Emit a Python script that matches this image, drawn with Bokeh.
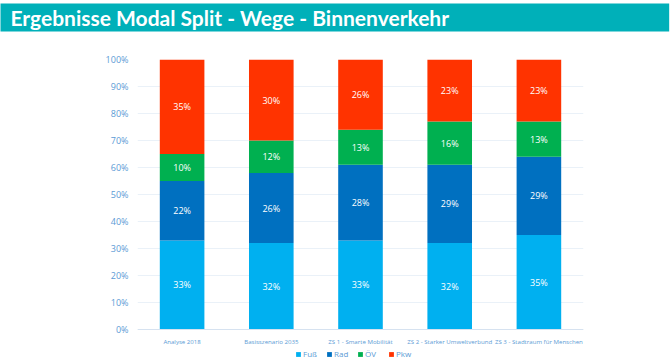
from bokeh.plotting import figure
from bokeh.models import (ColumnDataSource, Range1d, NumeralTickFormatter, FixedTicker,
                          Legend, LegendItem, Title)
from bokeh.core.properties import value
from bokeh.embed import file_html
from bokeh.resources import INLINE

title = "Ergebnisse Modal Split - Wege - Binnenverkehr"
categories = ["Analyse 2018", "Basisszenario 2035", "ZS 1 - Smarte Mobilität",
              "ZS 2 - Starker Umweltverbund", "ZS 3 - Stadtraum für Menschen"]
modes = ["Fuß", "Rad", "ÖV", "Pkw"]
fuss = [0.33, 0.32, 0.33, 0.32, 0.35]
rad = [0.22, 0.26, 0.28, 0.29, 0.29]
oev = [0.10, 0.12, 0.13, 0.16, 0.13]
pkw = [0.35, 0.30, 0.26, 0.23, 0.23]
colors = ["#00B0F0", "#0070C0", "#00B050", "#FF3300"]
y_ticks = [0, 0.1, 0.2, 0.3, 0.4, 0.5, 0.6, 0.7, 0.8, 0.9, 1.0]

FONT = "Open Sans"
AXIS_COLOR = "#5B9BD5"
TEAL = "#00B0B9"

W, H = 670, 364
FL, FR, FT, Y0 = 137, 583, 59, 329   # frame left/right/top and the 0% line (canvas px)
px_per_unit = Y0 - FT                # pixels for 100 %
y_min = -(H - Y0) / px_per_unit      # frame reaches the canvas bottom (room for labels/legend)

data = {"cat": categories, "Fuß": fuss, "Rad": rad, "ÖV": oev, "Pkw": pkw}
src = ColumnDataSource(data)

p = figure(x_range=categories, y_range=Range1d(y_min, 1), width=W, height=H,
           output_backend="svg", toolbar_location=None, title=None,
           min_border_left=FL, min_border_right=W - FR, min_border_top=FT,
           min_border_bottom=0)
p.outline_line_color = None

# spacer between header band and plot frame (added first -> nearest the frame)
p.add_layout(Title(text=" ", text_font_size="10px", standoff=14), "above")
# header: title with teal band
header = Title(text=title, align="left", offset=-FL, text_font="Lato",
               text_font_style="bold", text_font_size="21px", text_color="white",
               background_fill_color=TEAL, standoff=2,
               padding=dict(left=10, right=220, top=1, bottom=2))
p.add_layout(header, "above")

rs = p.vbar_stack(modes, x="cat", width=0.5, color=colors, line_color=None, source=src)

# segment labels
series = [fuss, rad, oev, pkw]
xs, ys, ts = [], [], []
for i, c in enumerate(categories):
    base = 0.0
    for s in series:
        v = s[i]
        xs.append(c)
        ys.append(base + v / 2)
        ts.append(f"{round(v * 100)}%")
        base += v
lsrc = ColumnDataSource(dict(x=xs, y=ys, t=ts))
p.text(x="x", y="y", text="t", source=lsrc, text_color="white", text_font=value(FONT),
       text_font_size="9px", text_align="center", text_baseline="middle")

p.yaxis.ticker = FixedTicker(ticks=y_ticks)
p.yaxis.formatter = NumeralTickFormatter(format="0%")
p.yaxis.axis_line_color = None
p.yaxis.major_tick_line_color = None
p.yaxis.minor_tick_line_color = None
p.yaxis.major_tick_out = 0
p.yaxis.major_label_text_font = FONT
p.yaxis.major_label_text_font_size = "9px"
p.yaxis.major_label_text_color = AXIS_COLOR
p.yaxis.major_label_standoff = 9

p.xaxis.fixed_location = 0
p.xaxis.axis_line_color = "#D6E2F0"
p.xaxis.major_tick_line_color = None
p.xaxis.minor_tick_line_color = None
p.xaxis.major_tick_out = 0
p.xaxis.major_label_text_font = FONT
p.xaxis.major_label_text_font_size = "6.1px"
p.xaxis.major_label_text_color = AXIS_COLOR
p.xaxis.major_label_standoff = 7

p.xgrid.grid_line_color = None
p.ygrid.grid_line_color = "#EAF1F8"
p.ygrid.ticker = FixedTicker(ticks=y_ticks)

legend = Legend(items=[LegendItem(label=m, renderers=[r]) for m, r in zip(modes, rs)],
                orientation="horizontal", location=(295 - FL, H - 359),
                glyph_width=6, glyph_height=6, label_standoff=2, spacing=3,
                padding=0, margin=0, border_line_color=None, background_fill_alpha=0,
                label_text_font=FONT, label_text_font_size="8px",
                label_text_color=AXIS_COLOR, label_height=9, label_text_baseline="middle")
p.add_layout(legend, "center")

open("out.html", "w").write(file_html(p, INLINE))
